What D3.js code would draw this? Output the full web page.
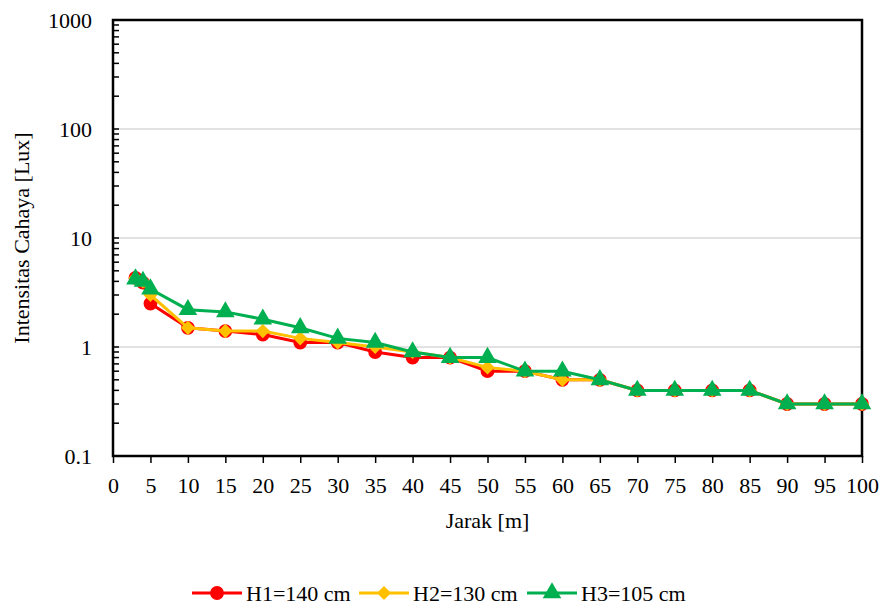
<!DOCTYPE html>
<html>
<head>
<meta charset="utf-8">
<script src="https://cdn.jsdelivr.net/npm/d3@7"></script>
<style>
  body { margin: 0; background: #fff; }
  svg text { font-family: "Liberation Serif", "Times New Roman", Tinos, "DejaVu Serif", serif; }
</style>
</head>
<body>
<svg id="chart" width="885" height="608"></svg>
<script>
// distance (m)
var jarak = [3, 4, 5, 10, 15, 20, 25, 30, 35, 40, 45, 50, 55, 60, 65, 70, 75, 80, 85, 90, 95, 100];

// light intensity (lux) for each lamp height
var h1 = [4.3, 3.9, 2.5, 1.5, 1.4, 1.3, 1.1, 1.1, 0.9, 0.8, 0.8, 0.6, 0.6, 0.5, 0.5, 0.4, 0.4, 0.4, 0.4, 0.3, 0.3, 0.3];
var h2 = [4.3, 4.0, 3.0, 1.5, 1.4, 1.4, 1.2, 1.1, 1.0, 0.9, 0.8, 0.65, 0.6, 0.5, 0.5, 0.4, 0.4, 0.4, 0.4, 0.3, 0.3, 0.3];
var h3 = [4.2, 4.0, 3.4, 2.2, 2.1, 1.8, 1.5, 1.2, 1.1, 0.9, 0.8, 0.8, 0.6, 0.6, 0.5, 0.4, 0.4, 0.4, 0.4, 0.3, 0.3, 0.3];

var seriesNames = ["H1=140 cm", "H2=130 cm", "H3=105 cm"];
var xTicks = d3.range(0, 101, 5);
var yTicks = [0.1, 1, 10, 100, 1000];
var yLabels = ["0.1", "1", "10", "100", "1000"];

// square turned 45deg reads like Excel's diamond marker
var series = [
    { name: seriesNames[0], values: h1, color: "#ff0000", symbol: d3.symbolCircle, size: 150, rot: 0 },
    { name: seriesNames[1], values: h2, color: "#ffc000", symbol: d3.symbolSquare, size: 100, rot: 45 },
    { name: seriesNames[2], values: h3, color: "#00b050", symbol: d3.symbolTriangle, size: 150, rot: 0 }
];

var svg = d3.select("#chart"),
    margin = { top: 20, right: 23, bottom: 152, left: 113 },
    width = 885 - margin.left - margin.right,
    height = 608 - margin.top - margin.bottom;

var x = d3.scaleLinear().domain([0, 100]).range([0, width]);
var y = d3.scaleLog().domain([0.1, 1000]).range([height, 0]);

var g = svg.append("g").attr("transform", "translate(" + margin.left + "," + margin.top + ")");

// horizontal gridlines
g.selectAll(".grid")
    .data(yTicks.slice(1, 4))
    .enter().append("line")
    .attr("x1", 0).attr("x2", width)
    .attr("y1", function(d) { return y(d); })
    .attr("y2", function(d) { return y(d); })
    .attr("stroke", "#d9d9d9")
    .attr("stroke-width", 1.5);

// minor log ticks, pointing inward
var minor = [];
for (var e = -1; e < 3; e++) {
    for (var m = 1; m < 10; m++) minor.push(m * Math.pow(10, e));
}
minor.push(1000);
g.selectAll(".ytick")
    .data(minor)
    .enter().append("line")
    .attr("x1", 0).attr("x2", 6)
    .attr("y1", function(d) { return y(d); })
    .attr("y2", function(d) { return y(d); })
    .attr("stroke", "#000")
    .attr("stroke-width", 1.5);

g.selectAll(".ylab")
    .data(yTicks)
    .enter().append("text")
    .attr("x", -21)
    .attr("y", function(d) { return y(d); })
    .attr("dy", "0.35em")
    .attr("text-anchor", "end")
    .style("font-size", "22px")
    .text(function(d, i) { return yLabels[i]; });

// x axis
var xAxis = d3.axisBottom(x).tickValues(xTicks).tickSize(7).tickPadding(14).tickFormat(d3.format("d"));
var xa = g.append("g").attr("transform", "translate(0," + height + ")").call(xAxis);
xa.attr("font-family", null);
xa.select(".domain").remove();
xa.selectAll("line").attr("stroke", "#000").attr("stroke-width", 1.5);
xa.selectAll("text").style("font-size", "22px").attr("fill", "#000");

// frame
g.append("rect")
    .attr("width", width).attr("height", height)
    .attr("fill", "none")
    .attr("stroke", "#000")
    .attr("stroke-width", 2.5);

var line = d3.line()
    .x(function(d) { return x(d[0]); })
    .y(function(d) { return y(d[1]); });

series.forEach(function(s) {
    var pts = jarak.map(function(j, i) { return [j, s.values[i]]; });
    g.append("path")
        .datum(pts)
        .attr("d", line)
        .attr("fill", "none")
        .attr("stroke", s.color)
        .attr("stroke-width", 3);
    g.selectAll(null)
        .data(pts)
        .enter().append("path")
        .attr("d", d3.symbol().type(s.symbol).size(s.size))
        .attr("transform", function(d) { return "translate(" + x(d[0]) + "," + y(d[1]) + ") rotate(" + s.rot + ")"; })
        .attr("fill", s.color);
});

// axis titles
svg.append("text")
    .attr("transform", "translate(29," + (margin.top + height / 2) + ") rotate(-90)")
    .attr("text-anchor", "middle")
    .style("font-size", "22px")
    .text("Intensitas Cahaya [Lux]");

svg.append("text")
    .attr("x", margin.left + width / 2)
    .attr("y", 528)
    .attr("text-anchor", "middle")
    .style("font-size", "22px")
    .text("Jarak [m]");

// legend
var legendX = [192, 359, 527];
var leg = svg.selectAll(".legend")
    .data(series)
    .enter().append("g")
    .attr("transform", function(d, i) { return "translate(" + legendX[i] + ",593)"; });
leg.append("line")
    .attr("x1", 0).attr("x2", 50)
    .attr("stroke", function(d) { return d.color; })
    .attr("stroke-width", 3);
leg.append("path")
    .attr("d", function(d) { return d3.symbol().type(d.symbol).size(d.size)(); })
    .attr("transform", function(d) { return "translate(25,0) rotate(" + d.rot + ")"; })
    .attr("fill", function(d) { return d.color; });
leg.append("text")
    .attr("x", 54)
    .attr("dy", "0.35em")
    .style("font-size", "22px")
    .text(function(d) { return d.name; });
</script>
</body>
</html>
